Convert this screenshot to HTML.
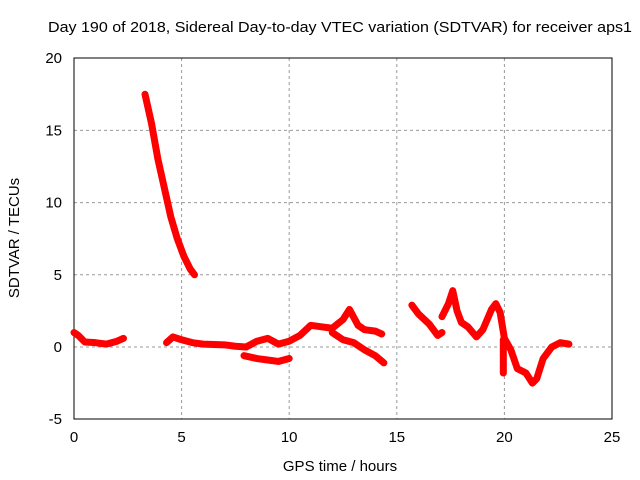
<!DOCTYPE html>
<html><head><meta charset="utf-8"><style>
body{margin:0;background:#fff}
svg{display:block;font-family:"Liberation Sans",sans-serif;font-size:15px}
</style></head><body>
<svg id="chart" width="640" height="480">
<text x="340" y="32" text-anchor="middle" textLength="584" lengthAdjust="spacingAndGlyphs">Day 190 of 2018, Sidereal Day-to-day VTEC variation (SDTVAR) for receiver aps1</text>
<g id="grid"></g>
<rect x="74" y="58" width="538" height="361" fill="none" stroke="#000" stroke-width="1"/>
<g id="ticks"></g>
<g id="series"></g>
<text x="340" y="471" text-anchor="middle">GPS time / hours</text>
<text transform="translate(19,238) rotate(-90)" text-anchor="middle">SDTVAR / TECUs</text>
</svg>
<script>
const xTicks=[0,5,10,15,20,25];
const yTicks=[-5,0,5,10,15,20];
const segA=[[0,1.0],[0.2,0.8],[0.5,0.35],[1,0.3],[1.5,0.2],[2,0.4],[2.3,0.6]];
const segB=[[3.3,17.5],[3.6,15.5],[3.9,13],[4.2,11],[4.5,9],[4.8,7.5],[5.1,6.3],[5.4,5.4],[5.6,5.0]];
const segC=[[4.3,0.3],[4.6,0.7],[5,0.5],[5.5,0.3],[6,0.2],[7,0.15],[7.5,0.05],[8,0.0],[8.5,0.4],[9,0.6],[9.5,0.2],[10,0.4],[10.5,0.8],[11,1.5],[11.5,1.4],[12,1.3],[12.5,1.9],[12.8,2.6],[13.2,1.5],[13.5,1.2],[14,1.1],[14.3,0.9]];
const segC2=[[7.9,-0.6],[8.5,-0.8],[9,-0.9],[9.5,-1.0],[10,-0.8]];
const segC3=[[12,1.0],[12.5,0.5],[13,0.3],[13.5,-0.2],[14,-0.6],[14.4,-1.1]];
const segD1=[[15.7,2.9],[16,2.3],[16.5,1.6],[16.9,0.8],[17.1,1.0]];
const segD2=[[17.1,2.1],[17.4,3.0],[17.6,3.9],[17.8,2.5],[18,1.7],[18.3,1.4],[18.7,0.7],[19,1.2],[19.4,2.6],[19.6,3.0],[19.8,2.4],[20,0.6],[20.3,-0.2],[20.6,-1.5],[21,-1.8],[21.3,-2.5],[21.5,-2.2],[21.8,-0.8],[22.2,0.0],[22.6,0.3],[23,0.2]];
const segD3=[[19.95,0.5],[19.95,-1.8]];
const segments=[segA,segB,segC,segC2,segC3,segD1,segD2,segD3];
const X=h=>74+h*538/25, Y=v=>347-v*361/25;
const NS="http://www.w3.org/2000/svg";
const g=document.getElementById('grid'),t=document.getElementById('ticks'),s=document.getElementById('series');
function mk(p,tag,a){const e=document.createElementNS(NS,tag);for(const k in a)e.setAttribute(k,a[k]);p.appendChild(e);return e;}
xTicks.forEach(v=>{
 if(v>0&&v<25){const l=mk(g,'line',{x1:X(v),x2:X(v),y1:58,y2:419,stroke:'#999','stroke-dasharray':'3,3'});
 
 }
 const tx=mk(t,'text',{x:X(v),y:442,'text-anchor':'middle'});tx.textContent=v;
 
 
});
yTicks.forEach(v=>{
 if(v>-5&&v<20){const l=mk(g,'line',{x1:74,x2:612,y1:Y(v),y2:Y(v),stroke:'#999','stroke-dasharray':'3,3'});
 
 }
 const tx=mk(t,'text',{x:62,y:Y(v)+5,'text-anchor':'end'});tx.textContent=v;
 
 
});
segments.forEach(seg=>{
 const pl=mk(s,'polyline',{points:seg.map(p=>X(p[0])+','+Y(p[1])).join(' '),fill:'none',stroke:'#f00','stroke-width':7,'stroke-linejoin':'round','stroke-linecap':'round'});
 
 
});
</script>
</body></html>
